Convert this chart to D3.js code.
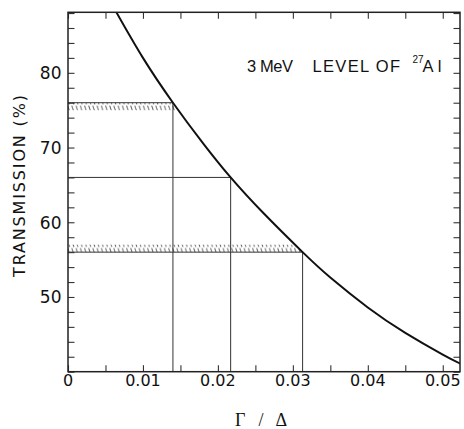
<!DOCTYPE html>
<html>
<head>
<meta charset="utf-8">
<script src="https://cdn.jsdelivr.net/npm/d3@7"></script>
<style>
  html, body { margin: 0; padding: 0; background: #fff; }
  svg { display: block; }
</style>
</head>
<body>
<svg id="chart" width="464" height="429"></svg>
<script>
// Transmission versus Γ/Δ for the 3 MeV level of 27Al
const curveX = [0.0064, 0.010, 0.014, 0.018, 0.0217, 0.026, 0.0313, 0.035, 0.040, 0.045, 0.050, 0.0525];
const curveT = [88.2, 82.0, 76.0, 70.6, 66.0, 61.3, 56.0, 52.6, 48.6, 45.2, 42.3, 41.0];

// Measured transmissions and the Γ/Δ they give
const readT = [76, 66, 56];
const readX = [0.0140, 0.0217, 0.0313];

// Uncertainty bands (hatched)
const bandLow = [75, 56];
const bandHigh = [76, 57];

const xTickLabels = [0, 0.01, 0.02, 0.03, 0.04, 0.05];
const yTickLabels = [50, 60, 70, 80];

const svg = d3.select("#chart");
const pLeft = 68, pRight = 460, pTop = 12.3, pBottom = 371.7;

const x = d3.scaleLinear().domain([0, 0.0523]).range([pLeft, pRight]);
const y = d3.scaleLinear().domain([40, 88.1]).range([pBottom, pTop]);

const ink = "#111";

// hatch pattern: short back-slanted strokes
const defs = svg.append("defs");
const pat = defs.append("pattern")
  .attr("id", "hatch").attr("patternUnits", "userSpaceOnUse")
  .attr("width", 4.2).attr("height", 7.5);
pat.append("line").attr("x1", 0.5).attr("y1", 0.5).attr("x2", 2.5).attr("y2", 7)
  .attr("stroke", "#555").attr("stroke-width", 0.9);

// clip: plot frame
defs.append("clipPath").attr("id", "frame")
  .append("rect").attr("x", pLeft).attr("y", pTop).attr("width", pRight - pLeft).attr("height", pBottom - pTop);

// clip: region under (left of) the curve
const pts = curveX.map((d, i) => [d, curveT[i]]);
const underArea = d3.area()
  .x(d => x(d[0])).y0(y(40)).y1(d => y(d[1]))
  .curve(d3.curveNatural);
defs.append("clipPath").attr("id", "under")
  .append("path").attr("d", underArea([[0, 96]].concat(pts)));

const plot = svg.append("g").attr("clip-path", "url(#frame)");

// hatched bands
plot.append("g").attr("clip-path", "url(#under)")
  .selectAll("rect").data(bandLow).join("rect")
  .attr("x", x(0))
  .attr("y", (d, i) => y(bandHigh[i]))
  .attr("width", x(0.04) - x(0))
  .attr("height", (d, i) => y(d) - y(bandHigh[i]))
  .attr("fill", "url(#hatch)");

// reading lines
plot.selectAll("line.h").data(readT).join("line").attr("class", "h")
  .attr("x1", x(0)).attr("x2", (d, i) => x(readX[i]))
  .attr("y1", d => y(d)).attr("y2", d => y(d))
  .attr("stroke", "#333").attr("stroke-width", 1);
plot.selectAll("line.v").data(readX).join("line").attr("class", "v")
  .attr("x1", d => x(d)).attr("x2", d => x(d))
  .attr("y1", (d, i) => y(readT[i])).attr("y2", y(40))
  .attr("stroke", "#333").attr("stroke-width", 1);

// transmission curve
const line = d3.line().x(d => x(d[0])).y(d => y(d[1])).curve(d3.curveNatural);
plot.append("path").attr("d", line(pts))
  .attr("fill", "none").attr("stroke", ink).attr("stroke-width", 2);

// axes (ticks drawn inward on all four sides)
const xt = d3.range(0, 0.0521, 0.005);
const yt = d3.range(40, 88.1, 2);
const tickLen = 6.5;
const axB = d3.axisBottom(x).tickValues(xt).tickSize(-tickLen).tickFormat("");
const axT = d3.axisTop(x).tickValues(xt).tickSize(-tickLen).tickFormat("");
const axL = d3.axisLeft(y).tickValues(yt).tickSize(-tickLen).tickFormat("");
const axR = d3.axisRight(y).tickValues(yt).tickSize(-tickLen).tickFormat("");
[[axB, `translate(0,${pBottom})`], [axT, `translate(0,${pTop})`],
 [axL, `translate(${pLeft},0)`], [axR, `translate(${pRight},0)`]].forEach(([ax, tr]) => {
  const g = svg.append("g").attr("transform", tr).call(ax);
  g.select(".domain").remove();
  g.selectAll(".tick line").attr("stroke", "#333").attr("stroke-width", 1.1);
});

svg.append("rect").attr("x", pLeft).attr("y", pTop)
  .attr("width", pRight - pLeft).attr("height", pBottom - pTop)
  .attr("fill", "none").attr("stroke", "#222").attr("stroke-width", 1.5);

// tick labels
svg.append("g").selectAll("text").data(xTickLabels).join("text")
  .attr("x", d => x(d)).attr("y", pBottom + 14.5)
  .attr("text-anchor", "middle")
  .attr("font-family", "DejaVu Sans").attr("font-size", 16).attr("fill", ink)
  .text(d => d === 0 ? "0" : d3.format(".2f")(d));
svg.append("g").selectAll("text").data(yTickLabels).join("text")
  .attr("x", pLeft - 6.5).attr("y", d => y(d) + 6.5)
  .attr("text-anchor", "end")
  .attr("font-family", "DejaVu Sans").attr("font-size", 17).attr("fill", ink)
  .text(d => d);

// axis titles
svg.append("text")
  .attr("transform", "translate(25,186) rotate(-90)")
  .attr("text-anchor", "middle")
  .attr("font-family", "DejaVu Sans").attr("font-size", 16).attr("fill", ink)
  .attr("textLength", 182).attr("lengthAdjust", "spacing")
  .text("TRANSMISSION (%)");

svg.append("text")
  .attr("x", 235).attr("y", 426)
  .attr("font-family", "Liberation Serif").attr("font-size", 18).attr("fill", ink)
  .attr("textLength", 52).attr("lengthAdjust", "spacing")
  .text("Γ / Δ");

// annotation
const ann = svg.append("g").attr("font-family", "Liberation Sans").attr("fill", ink);
ann.append("text").attr("x", 247).attr("y", 72).attr("font-size", 16.5)
  .attr("textLength", 46).attr("lengthAdjust", "spacing").text("3 MeV");
ann.append("text").attr("x", 312.5).attr("y", 72).attr("font-size", 16.5)
  .attr("textLength", 87.5).attr("lengthAdjust", "spacing").text("LEVEL OF");
ann.append("text").attr("x", 412.5).attr("y", 63).attr("font-size", 10).text("27");
ann.append("text").attr("x", 422.5).attr("y", 72).attr("font-size", 16.5)
  .attr("textLength", 19).attr("lengthAdjust", "spacing").text("Al");
</script>
</body>
</html>
